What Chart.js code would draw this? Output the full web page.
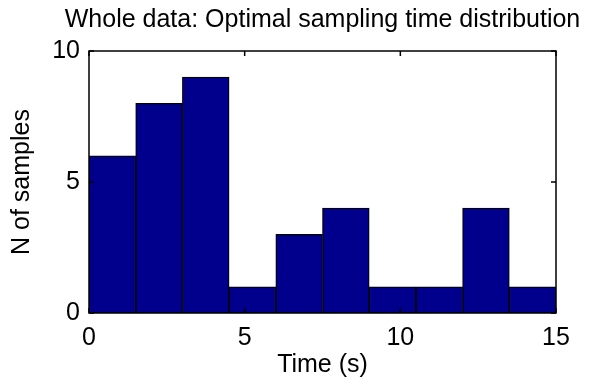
<!DOCTYPE html>
<html>
<head>
<meta charset="utf-8">
<script src="https://cdn.jsdelivr.net/npm/chart.js@4.4.0/dist/chart.umd.min.js"></script>
<style>
  html, body { margin: 0; padding: 0; background: #fff; }
  #wrap { width: 601px; height: 385px; }
</style>
</head>
<body>
<div id="wrap"><canvas id="hist" width="601" height="385"></canvas></div>
<script>
// histogram bins (seconds) and counts
const binEdges = [0, 1.5, 3, 4.5, 6, 7.5, 9, 10.5, 12, 13.5, 15];
const counts = [6, 8, 9, 1, 3, 4, 1, 1, 4, 1];
const xTicks = [0, 5, 10, 15];
const yTicks = [0, 5, 10];

const titleText = "Whole data: Optimal sampling time distribution";
const xLabel = "Time (s)";
const yLabel = "N of samples";

const FONT = "'Liberation Sans', Arial, Helvetica, sans-serif";
const TICK_LEN = 5;

// bar centres come from the bin edges
const points = counts.map((c, i) => ({
    x: (binEdges[i] + binEdges[i + 1]) / 2,
    y: c,
}));

// MATLAB style box with inward ticks on all four sides, title centred on the box
const matlabFrame = {
    id: "matlabFrame",
    afterDatasetsDraw(chart) {
        const { ctx, chartArea: a, scales } = chart;
        const x = scales.x;
        const y = scales.y;
        ctx.save();
        ctx.strokeStyle = "#000";
        ctx.lineWidth = 1.5;
        ctx.beginPath();
        x.ticks.forEach((t) => {
            const px = x.getPixelForValue(t.value);
            ctx.moveTo(px, a.bottom);
            ctx.lineTo(px, a.bottom - TICK_LEN);
            ctx.moveTo(px, a.top);
            ctx.lineTo(px, a.top + TICK_LEN);
        });
        y.ticks.forEach((t) => {
            const py = y.getPixelForValue(t.value);
            ctx.moveTo(a.left, py);
            ctx.lineTo(a.left + TICK_LEN, py);
            ctx.moveTo(a.right, py);
            ctx.lineTo(a.right - TICK_LEN, py);
        });
        ctx.stroke();
        ctx.strokeRect(a.left, a.top, a.right - a.left, a.bottom - a.top);

        // title (MATLAB lets it run past the axes box)
        ctx.fillStyle = "#000";
        ctx.font = "25px " + FONT;
        ctx.textAlign = "center";
        ctx.textBaseline = "middle";
        ctx.fillText(titleText, (a.left + a.right) / 2, 20);
        ctx.restore();
    },
};

/**
 * @type import('chart.js').ChartConfiguration
 */
const histConfig = {
    type: "bar",
    data: {
        datasets: [
            {
                label: yLabel,
                data: points,
                backgroundColor: "rgb(0, 0, 140)",
                borderColor: "#000",
                borderWidth: 1.2,
                borderSkipped: false,
                barPercentage: 1,
                categoryPercentage: 1,
            },
        ],
    },
    options: {
        responsive: false,
        animation: false,
        layout: {
            padding: { left: 0, right: 45, top: 51, bottom: 0 },
        },
        plugins: {
            legend: { display: false },
            tooltip: { enabled: false },
            title: { display: false },
        },
        scales: {
            x: {
                type: "linear",
                min: 0,
                max: 15,
                offset: false,
                grid: { display: false, drawTicks: false },
                border: { display: false },
                afterBuildTicks: (s) => {
                    s.ticks = xTicks.map((v) => ({ value: v }));
                },
                afterFit: (s) => {
                    s.height = 72;
                },
                ticks: {
                    color: "#000",
                    padding: 10,
                    maxRotation: 0,
                    font: { family: FONT, size: 25 },
                },
                title: {
                    display: true,
                    text: xLabel,
                    color: "#000",
                    font: { family: FONT, size: 25, lineHeight: 1.2 },
                    padding: { top: 0, bottom: 5 },
                },
            },
            y: {
                min: 0,
                max: 10,
                grid: { display: false, drawTicks: false },
                border: { display: false },
                afterBuildTicks: (s) => {
                    s.ticks = yTicks.map((v) => ({ value: v }));
                },
                afterFit: (s) => {
                    s.width = 89;
                },
                ticks: {
                    color: "#000",
                    padding: 9,
                    font: { family: FONT, size: 25 },
                },
                title: {
                    display: true,
                    text: yLabel,
                    color: "#000",
                    font: { family: FONT, size: 25, lineHeight: 1.2 },
                    padding: { top: 7, bottom: 0 },
                },
            },
        },
    },
    plugins: [matlabFrame],
};

new Chart(document.getElementById("hist"), histConfig);
</script>
</body>
</html>
